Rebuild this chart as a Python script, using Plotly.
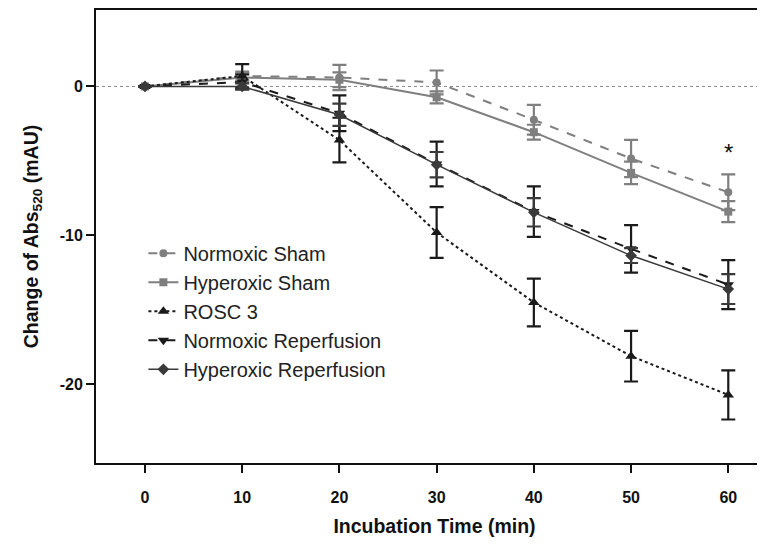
import plotly.graph_objects as go

time_min = [0, 10, 20, 30, 40, 50, 60]

normoxic_sham = [0, 0.7, 0.6, 0.27, -2.24, -4.84, -7.1]
normoxic_sham_err = [0, 0.3, 0.85, 0.8, 1.0, 1.25, 1.2]

hyperoxic_sham = [0, 0.6, 0.45, -0.73, -3.07, -5.8, -8.4]
hyperoxic_sham_err = [0, 0.3, 0.5, 0.4, 0.5, 0.75, 0.7]

rosc3 = [0, 0.7, -3.6, -9.8, -14.5, -18.1, -20.7]
rosc3_err = [0, 0.8, 1.5, 1.7, 1.6, 1.7, 1.65]

normoxic_rep = [0, 0.3, -1.8, -5.2, -8.4, -10.9, -13.3]
normoxic_rep_err = [0, 0.5, 1.2, 1.5, 1.7, 1.6, 1.65]

hyperoxic_rep = [0, 0.0, -1.9, -5.25, -8.45, -11.35, -13.6]
hyperoxic_rep_err = [0, 0.2, 0.75, 0.85, 0.95, 0.5, 1.0]

x_ticks = [0, 10, 20, 30, 40, 50, 60]
y_ticks = [0, -10, -20]
y_tick_labels = ["0", "-10", "-20"]

GRAY = "#7f7f7f"
BLACK = "#1a1a1a"
DARK = "#3a3a3a"
FONT = "Liberation Sans, Arial"

series = [
    ("Normoxic Sham", normoxic_sham, normoxic_sham_err, GRAY, "dash", "circle", 8),
    ("Hyperoxic Sham", hyperoxic_sham, hyperoxic_sham_err, GRAY, "solid", "square", 8),
    ("ROSC 3", rosc3, rosc3_err, BLACK, "dot", "triangle-up", 10),
    ("Normoxic Reperfusion", normoxic_rep, normoxic_rep_err, BLACK, "dash", "triangle-down", 10),
    ("Hyperoxic Reperfusion", hyperoxic_rep, hyperoxic_rep_err, DARK, "solid", "diamond", 9),
]

fig = go.Figure()
for i, (name, vals, err, col, dash, sym, size) in enumerate(series):
    fig.add_trace(go.Scatter(
        x=time_min, y=vals, name=name, mode="lines+markers",
        legendgroup=f"g{i}",
        line=dict(color=col, dash=dash, width=2 if name != "Hyperoxic Reperfusion" else 1.5),
        marker=dict(symbol=sym, size=size, color=col),
        error_y=dict(type="data", array=err, visible=True, color=col, thickness=2.2, width=7),
    ))

fig.add_hline(y=0, line=dict(color="#888888", width=1, dash="dot"), layer="below")

fig.add_annotation(x=60, y=-4.4, text="*", showarrow=False,
                   font=dict(size=24, color="#111111", family=FONT))

fig.update_layout(
    width=765, height=549,
    margin=dict(l=88, r=0, t=0, b=94),
    paper_bgcolor="white", plot_bgcolor="white",
    font=dict(family=FONT, color="#111111"),
    showlegend=True,
    legend=dict(x=0.07, y=0.506, xanchor="left", yanchor="top",
                bgcolor="rgba(0,0,0,0)", font=dict(size=20, color="#222222"),
                traceorder="grouped", tracegroupgap=0, itemwidth=30),
    xaxis=dict(range=[-5.04, 64.6], tickvals=x_ticks, ticks="outside", ticklen=8,
               tickwidth=2, tickcolor="#111111", showline=True, linewidth=2,
               linecolor="#111111", mirror=True, showgrid=False, zeroline=False,
               ticklabelstandoff=11,
               tickfont=dict(size=16, family=FONT, weight="bold"),
               title=dict(text="<b>Incubation Time (min)</b>", font=dict(size=19.5), standoff=14)),
    yaxis=dict(range=[-25.27, 5.13], tickvals=y_ticks, ticktext=y_tick_labels,
               ticks="outside", ticklen=8,
               tickwidth=2, tickcolor="#111111", showline=True, linewidth=2,
               linecolor="#111111", showgrid=False, zeroline=False,
               tickfont=dict(size=16, family=FONT, weight="bold"),
               title=dict(text="<b>Change of Abs<sub>520</sub> (mAU)</b>", font=dict(size=19.5), standoff=16)),
)

fig.write_html("out.html")
